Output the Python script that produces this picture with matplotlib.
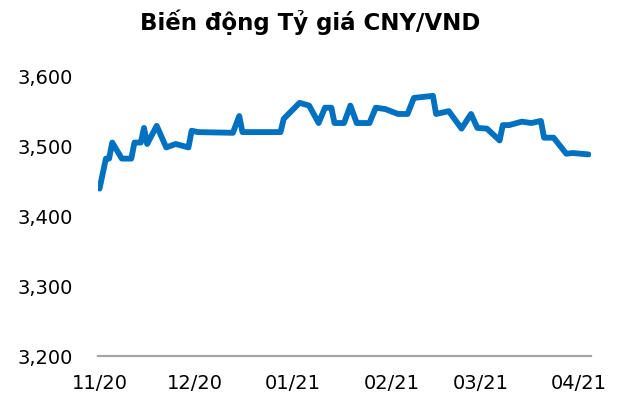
import matplotlib
matplotlib.use("Agg")
import matplotlib.pyplot as plt
import matplotlib.dates as mdates
from matplotlib.ticker import FuncFormatter, FixedLocator
import numpy as np

title = "Biến động Tỷ giá CNY/VND"

dates = ["2020-11-01", "2020-11-03", "2020-11-04", "2020-11-05", "2020-11-08", "2020-11-11",
         "2020-11-12", "2020-11-14", "2020-11-15", "2020-11-16", "2020-11-19", "2020-11-22",
         "2020-11-25", "2020-11-29", "2020-11-30", "2020-12-02", "2020-12-13", "2020-12-15",
         "2020-12-16", "2020-12-28", "2020-12-29", "2021-01-03", "2021-01-06", "2021-01-09",
         "2021-01-11", "2021-01-13", "2021-01-14", "2021-01-17", "2021-01-19", "2021-01-21",
         "2021-01-25", "2021-01-27", "2021-01-30", "2021-02-03", "2021-02-06", "2021-02-08",
         "2021-02-14", "2021-02-15", "2021-02-19", "2021-02-23", "2021-02-26", "2021-02-28",
         "2021-03-03", "2021-03-07", "2021-03-08", "2021-03-10", "2021-03-14", "2021-03-17",
         "2021-03-20", "2021-03-21", "2021-03-24", "2021-03-28", "2021-03-30", "2021-04-04"]

rates = [3440, 3483, 3483, 3506, 3483, 3483, 3506, 3506, 3527, 3504, 3530, 3499,
         3504, 3499, 3523, 3521, 3520, 3544, 3521, 3521, 3540, 3563, 3559, 3534,
         3556, 3556, 3534, 3534, 3559, 3534, 3534, 3556, 3554, 3547, 3547, 3570,
         3573, 3547, 3551, 3526, 3547, 3527, 3526, 3509, 3531, 3531, 3536, 3534,
         3537, 3513, 3513, 3490, 3491, 3489]

y_ticks = [3200, 3300, 3400, 3500, 3600]
x_tick_dates = ["2020-11-01", "2020-12-01", "2021-01-01", "2021-02-01", "2021-03-01", "2021-04-01"]

x = np.array(dates, dtype="datetime64[D]")

fig = plt.figure(figsize=(6.21, 4.00), dpi=100)
ax = fig.add_axes([97.7 / 621, 44 / 400, 492.8 / 621, 279 / 400])

ax.plot(x, rates, color="#0070C0", lw=4.2, solid_joinstyle="round", solid_capstyle="round")

ax.set_ylim(3200, 3600)
ax.set_yticks(y_ticks)
ax.yaxis.set_major_formatter(FuncFormatter(lambda v, p: f"{v:,.0f}"))

ax.set_xlim(np.datetime64("2020-10-31T10:00"), np.datetime64("2021-04-04T15:00"))
ax.xaxis.set_major_locator(FixedLocator(mdates.date2num(np.array(x_tick_dates, dtype="datetime64[D]"))))
ax.xaxis.set_major_formatter(mdates.DateFormatter("%m/%y"))

for s in ["top", "right", "left"]:
    ax.spines[s].set_visible(False)
ax.spines["bottom"].set_color("#A6A6A6")
ax.spines["bottom"].set_linewidth(1.6)
ax.spines["bottom"].set_clip_on(False)

ax.tick_params(axis="both", length=0, labelsize=14, labelcolor="black")
ax.tick_params(axis="y", pad=18)
ax.tick_params(axis="x", pad=13)

fig.text(0.5, 1 - 30 / 400, title, ha="center", va="baseline", fontsize=16.5, fontweight="bold")

fig.savefig("out.png", dpi=100)
